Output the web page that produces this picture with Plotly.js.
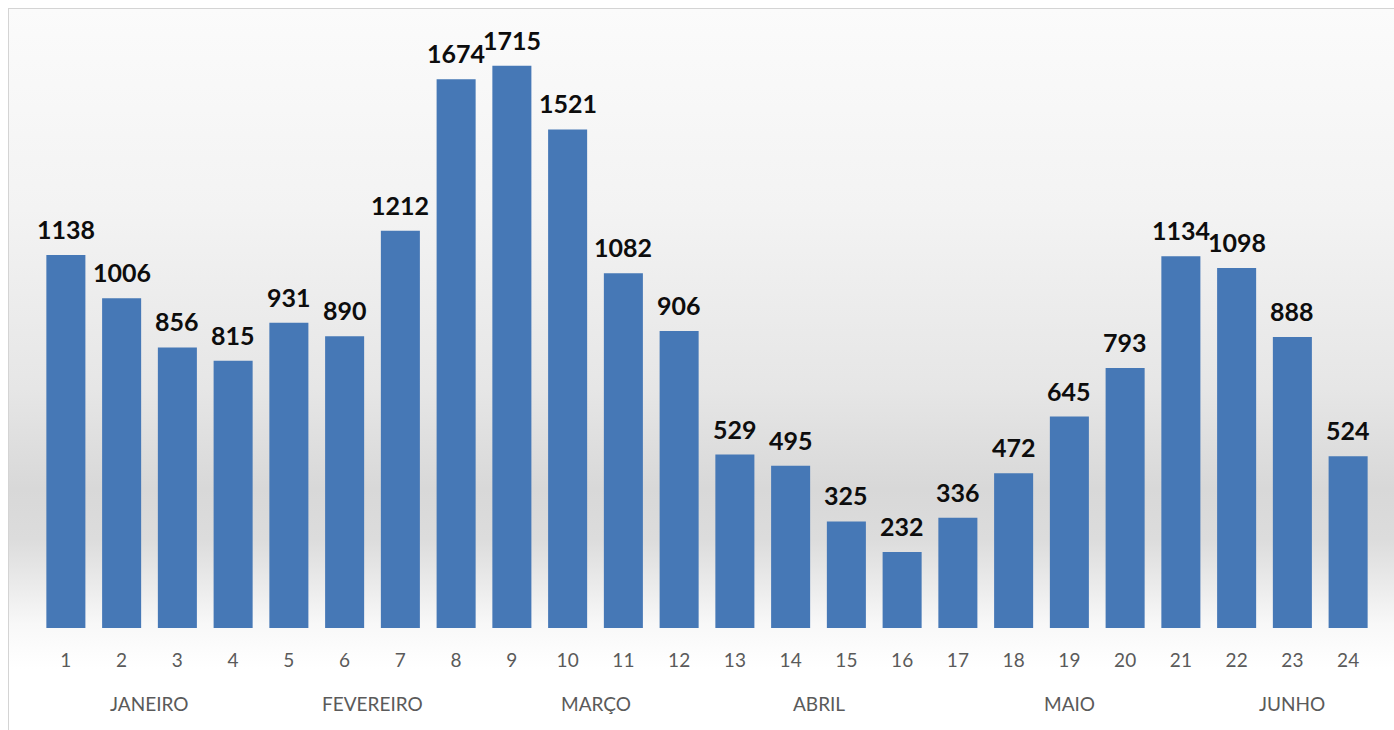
<!DOCTYPE html>
<html>
<head>
<meta charset="utf-8">
<script src="https://cdn.plot.ly/plotly-3.0.1.min.js"></script>
<style>
  html, body { margin: 0; padding: 0; background: #ffffff; }
  #wrap { position: relative; width: 1394px; height: 730px; overflow: hidden; background: #ffffff; }
  #bg { position: absolute; left: 8px; top: 8px; width: 1390px; height: 730px;
        border-left: 1px solid #d4d4d4; border-top: 1px solid #d4d4d4;
        background: linear-gradient(to bottom, #fbfbfb 0px, #f3f3f3 200px, #e6e6e6 380px, #d8d8d8 480px, #dcdcdc 530px, #ececec 580px, #f8f8f8 615px, #ffffff 660px); }
  #chart { position: absolute; left: 0; top: 0; width: 1394px; height: 730px; }
</style>
</head>
<body>
<div id="wrap">
  <div id="bg"></div>
  <div id="chart"></div>
</div>
<script>
// Data
const weeks = [1,2,3,4,5,6,7,8,9,10,11,12,13,14,15,16,17,18,19,20,21,22,23,24];
const values = [1138,1006,856,815,931,890,1212,1674,1715,1521,1082,906,529,495,325,232,336,472,645,793,1134,1098,888,524];
const tickLabels = weeks.map(String);
const months = ["JANEIRO","FEVEREIRO","MARÇO","ABRIL","MAIO","JUNHO"];
const monthPos = [2.5, 6.5, 10.5, 14.5, 19, 23];

const trace = {
  type: 'bar',
  x: weeks,
  y: values,
  marker: { color: '#4678b6', line: { width: 0 } },
  hoverinfo: 'x+y'
};

const valueAnnotations = weeks.map((w, i) => ({
  x: w, y: values[i], xref: 'x', yref: 'y',
  text: String(values[i]), showarrow: false,
  yanchor: 'bottom', yshift: 9,
  font: { family: 'Lato, "Open Sans", sans-serif', size: 25, color: '#0d0d0d', weight: 'bold' }
}));

const monthAnnotations = months.map((m, i) => ({
  x: monthPos[i], y: 0, xref: 'x', yref: 'paper',
  text: m, showarrow: false, yanchor: 'middle', yshift: -75,
  font: { family: 'Lato, "Open Sans", sans-serif', size: 19, color: '#5a5a5a' }
}));

const layout = {
  width: 1394, height: 730,
  margin: { l: 38, r: 18, t: 38, b: 102 },
  paper_bgcolor: 'rgba(0,0,0,0)',
  plot_bgcolor: 'rgba(0,0,0,0)',
  bargap: 0.3,
  showlegend: false,
  xaxis: {
    tickmode: 'array', tickvals: weeks, ticktext: tickLabels,
    range: [0.5, 24.5],
    showgrid: false, zeroline: false, showline: false,
    ticks: 'outside', ticklen: 15, tickcolor: 'rgba(0,0,0,0)',
    tickfont: { family: 'Lato, "Open Sans", sans-serif', size: 19, color: '#5a5a5a' }
  },
  yaxis: {
    range: [0, 1800], visible: false, showgrid: false, zeroline: false
  },
  annotations: valueAnnotations.concat(monthAnnotations)
};

Plotly.newPlot('chart', [trace], layout, { displayModeBar: false, staticPlot: true });
</script>
</body>
</html>
